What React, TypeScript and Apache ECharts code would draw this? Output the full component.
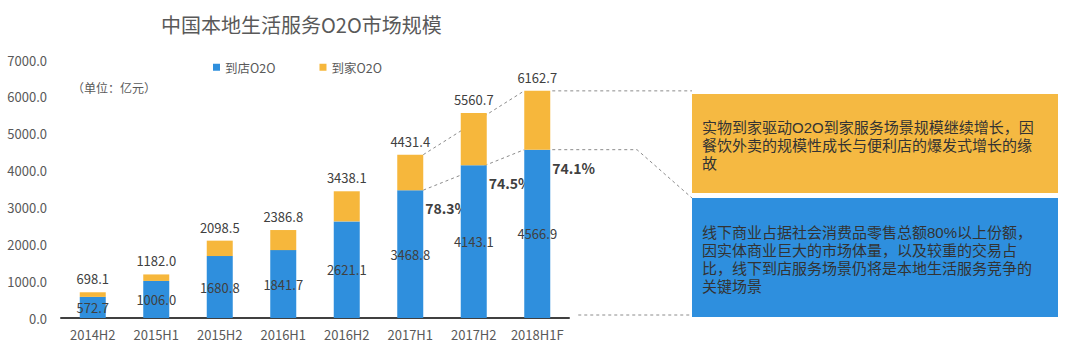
import React, { useEffect, useRef } from "react";
import * as echarts from "echarts";

const categories = ["2014H2", "2015H1", "2015H2", "2016H1", "2016H2", "2017H1", "2017H2", "2018H1F"];
const storeO2O = [572.7, 1006.0, 1680.8, 1841.7, 2621.1, 3468.8, 4143.1, 4566.9];
const homeO2O = [125.4, 176.0, 417.7, 545.1, 817.0, 962.6, 1417.6, 1595.8];
const totalO2O = [698.1, 1182.0, 2098.5, 2386.8, 3438.1, 4431.4, 5560.7, 6162.7];
const storeShare: (number | null)[] = [null, null, null, null, null, 78.3, 74.5, 74.1];
const seriesNames = ["到店O2O", "到家O2O"];
const titleText = "中国本地生活服务O2O市场规模";
const unitText = "（单位：亿元）";
const homeNoteLines = [
  "实物到家驱动O2O到家服务场景规模继续增长，因",
  "餐饮外卖的规模性成长与便利店的爆发式增长的缘",
  "故",
];
const storeNoteLines = [
  "线下商业占据社会消费品零售总额80%以上份额，",
  "因实体商业巨大的市场体量，以及较重的交易占",
  "比，线下到店服务场景仍将是本地生活服务竞争的",
  "关键场景",
];

const BLUE = "#2F8FDD";
const ORANGE = "#F6B73C";
const FONT = "'Noto Sans CJK SC', 'Noto Sans', sans-serif";
const NOTE_FONT = "'Liberation Sans', 'Noto Sans CJK SC', sans-serif";
const BAR_W = 26;

export default function App() {
  const ref = useRef<HTMLDivElement>(null);
  useEffect(() => {
    if (!ref.current) return;
    const chart = echarts.init(ref.current, undefined, { renderer: "svg" });
    chart.setOption({
      animation: false,
      backgroundColor: "#ffffff",
      textStyle: { fontFamily: FONT },
      title: {
        text: titleText,
        left: 156,
        top: 9,
        textStyle: { fontSize: 20, fontWeight: "normal", color: "#595959", fontFamily: FONT },
      },
      legend: {
        data: seriesNames,
        left: 208,
        top: 56,
        icon: "rect",
        itemWidth: 7,
        itemHeight: 7,
        itemGap: 44,
        textStyle: { fontSize: 12.5, color: "#595959", fontFamily: FONT },
      },
      grid: { left: 61, right: 511, top: 60, bottom: 37, containLabel: false },
      xAxis: {
        type: "category",
        data: categories,
        axisLine: { lineStyle: { color: "#404040", width: 2 } },
        axisTick: { show: false },
        axisLabel: { interval: 0, fontSize: 13, color: "#595959", margin: 10, fontFamily: FONT },
      },
      yAxis: {
        type: "value",
        min: 0,
        max: 7000,
        interval: 1000,
        axisLine: { show: false },
        axisTick: { show: false },
        splitLine: { show: false },
        axisLabel: {
          fontSize: 13,
          color: "#595959",
          margin: 14,
          fontFamily: FONT,
          formatter: (v: number) => v.toFixed(1),
        },
      },
      series: [
        {
          name: seriesNames[0],
          type: "bar",
          stack: "total",
          barWidth: BAR_W,
          data: storeO2O,
          itemStyle: { color: BLUE },
          label: {
            show: true,
            position: "inside",
            fontSize: 13,
            color: "#404040",
            fontFamily: FONT,
            formatter: (p: any) => p.value.toFixed(1),
          },
        },
        {
          name: seriesNames[1],
          type: "bar",
          stack: "total",
          barWidth: BAR_W,
          data: homeO2O,
          itemStyle: { color: ORANGE },
          label: {
            show: true,
            position: "top",
            distance: 7,
            fontSize: 13,
            color: "#404040",
            fontFamily: FONT,
            formatter: (p: any) => totalO2O[p.dataIndex].toFixed(1),
          },
        },
      ],
    });

    const px = (i: number) => chart.convertToPixel({ xAxisIndex: 0 }, i) as number;
    const py = (v: number) => chart.convertToPixel({ yAxisIndex: 0 }, v) as number;
    const half = BAR_W / 2;
    const dash = { stroke: "#8c8c8c", lineWidth: 1, lineDash: [3, 3] };
    const last = categories.length - 1;
    const first = storeShare.findIndex((s) => s !== null);
    const boxX = 692;
    const boxW = 366;

    const graphics: any[] = [];
    graphics.push({
      type: "text",
      left: 72,
      top: 81,
      style: { text: unitText, fontSize: 12, fill: "#595959", fontFamily: FONT },
    });
    // connector lines between bars
    graphics.push({
      type: "line",
      z: 0,
      shape: { x1: px(first) + half, y1: py(storeO2O[first]), x2: px(last) - half, y2: py(storeO2O[last]) },
      style: dash,
    });
    graphics.push({
      type: "line",
      z: 0,
      shape: { x1: px(first) + half, y1: py(totalO2O[first]), x2: px(last) - half, y2: py(totalO2O[last]) },
      style: dash,
    });
    graphics.push({
      type: "line",
      shape: { x1: px(last) + half + 2, y1: py(totalO2O[last]), x2: boxX, y2: py(totalO2O[last]) },
      style: dash,
    });
    graphics.push({
      type: "polyline",
      shape: { points: [[px(last) + half + 2, py(storeO2O[last])], [637, py(storeO2O[last])], [boxX, 198]] },
      style: { ...dash, fill: null },
    });
    graphics.push({
      type: "line",
      shape: { x1: px(last) + half + 28, y1: py(0) - 3, x2: boxX, y2: py(0) - 3 },
      style: dash,
    });
    // share labels
    storeShare.forEach((s, i) => {
      if (s === null) return;
      graphics.push({
        type: "text",
        x: px(i) + half + 2,
        y: py(storeO2O[i]) + 18,
        style: {
          text: s.toFixed(1) + "%",
          fontSize: 14,
          fontWeight: "bold",
          fill: "#404040",
          fontFamily: FONT,
          verticalAlign: "middle",
          align: "left",
        },
      });
    });
    // note boxes
    graphics.push({ type: "rect", shape: { x: boxX, y: 94, width: boxW, height: 99 }, style: { fill: "#F5B942" } });
    homeNoteLines.forEach((line, k) => {
      graphics.push({
        type: "text",
        x: 702,
        y: 127 + k * 18,
        style: { text: line, fontSize: 15, fill: "#333333", fontFamily: NOTE_FONT, verticalAlign: "middle" },
      });
    });
    graphics.push({ type: "rect", shape: { x: boxX, y: 198, width: boxW, height: 119 }, style: { fill: "#2E8FDE" } });
    storeNoteLines.forEach((line, k) => {
      graphics.push({
        type: "text",
        x: 702,
        y: 232 + k * 18,
        style: { text: line, fontSize: 15, fill: "#333333", fontFamily: NOTE_FONT, verticalAlign: "middle" },
      });
    });

    chart.setOption({ graphic: graphics });
    return () => chart.dispose();
  }, []);
  return (
    <div
      ref={ref}
      style={{ position: "fixed", left: 0, top: 0, width: 1080, height: 355, background: "#fff" }}
    />
  );
}
